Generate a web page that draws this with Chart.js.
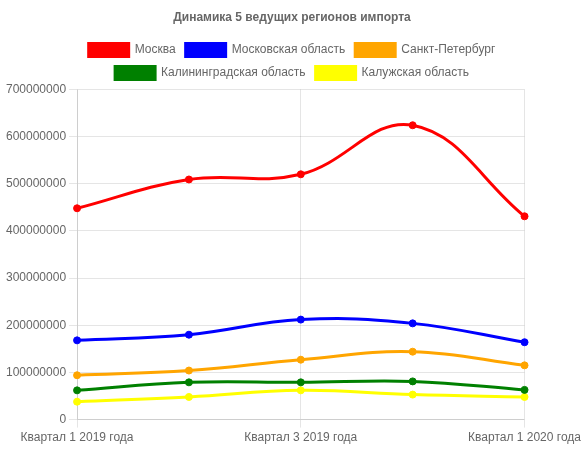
<!DOCTYPE html>
<html>
<head>
<meta charset="utf-8">
<script src="https://cdn.jsdelivr.net/npm/chart.js@4/dist/chart.umd.min.js"></script>
<style>
    body { margin: 0; background: #fff; }
    #wrap { width: 584px; height: 450px; }
</style>
</head>
<body>
<div id="wrap"><canvas id="importChart"></canvas></div>
<script>
// Данные по кварталам
const kvartaly = ['Квартал 1 2019 года', 'Квартал 2 2019 года', 'Квартал 3 2019 года', 'Квартал 4 2019 года', 'Квартал 1 2020 года'];
const moskva = [448000000, 509000000, 520000000, 624000000, 431000000];
const mosOblast = [168000000, 180000000, 212000000, 204000000, 164000000];
const spb = [94000000, 104000000, 127000000, 144000000, 115000000];
const kaliningrad = [62000000, 79000000, 79000000, 81000000, 63000000];
const kaluga = [38000000, 48000000, 62000000, 53000000, 48000000];

Chart.defaults.font.family = 'Arial, "Liberation Sans", sans-serif';
Chart.defaults.font.size = 12;
Chart.defaults.color = '#666';

function serie(label, data, color) {
    return {
        label: label,
        data: data,
        borderColor: color,
        backgroundColor: color,
        borderWidth: 3,
        pointRadius: 3.5,
        pointBorderWidth: 1,
        tension: 0.4,
        fill: false
    };
}

const ctx = document.getElementById('importChart').getContext('2d');
const importChart = new Chart(ctx, {
    type: 'line',
    data: {
        labels: kvartaly,
        datasets: [
            serie('Москва', moskva, 'red'),
            serie('Московская область', mosOblast, 'blue'),
            serie('Санкт-Петербург', spb, 'orange'),
            serie('Калининградская область', kaliningrad, 'green'),
            serie('Калужская область', kaluga, 'yellow')
        ]
    },
    options: {
        responsive: true,
        maintainAspectRatio: false,
        animation: false,
        layout: { padding: { left: 3, right: 3, bottom: 2 } },
        plugins: {
            title: {
                display: true,
                text: 'Динамика 5 ведущих регионов импорта',
                font: { size: 12, weight: 'bold' },
                padding: { top: 10, bottom: 9 }
            },
            legend: {
                labels: {
                    boxWidth: 40,
                    boxHeight: 13,
                    padding: 10
                }
            },
            tooltip: { enabled: false }
        },
        scales: {
            x: {
                ticks: { maxRotation: 0, autoSkip: true, autoSkipPadding: 20 },
                grid: { color: 'rgba(0,0,0,0.1)' }
            },
            y: {
                min: 0,
                max: 700000000,
                ticks: {
                    stepSize: 100000000,
                    callback: function(value) {
                        return String(value); // без разделителей тысяч
                    }
                },
                grid: { color: 'rgba(0,0,0,0.1)' }
            }
        }
    }
});
</script>
</body>
</html>
